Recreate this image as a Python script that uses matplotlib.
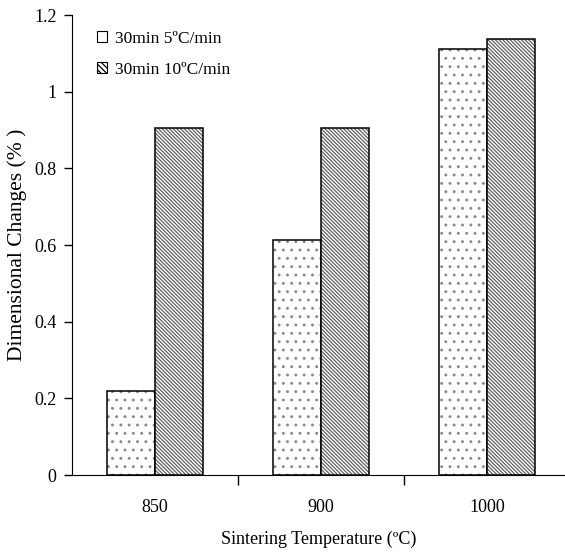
import matplotlib
matplotlib.use("Agg")
import matplotlib.pyplot as plt
import numpy as np

plt.rcParams['font.family'] = ['Liberation Serif', 'DejaVu Serif']
plt.rcParams['hatch.linewidth'] = 0.9

categories = ['850', '900', '1000']
series_names = ['30min 5ºC/min', '30min 10ºC/min']
values_5 = [0.22, 0.613, 1.11]
values_10 = [0.905, 0.905, 1.138]
yticks = [0, 0.2, 0.4, 0.6, 0.8, 1, 1.2]
ytick_labels = ['0', '0.2', '0.4', '0.6', '0.8', '1', '1.2']

W, H = 565, 554
fig = plt.figure(figsize=(W/100, H/100), dpi=100)
ax = fig.add_axes([72/W, (H-475)/H, (W-72)/W, 460/H])

x = np.arange(len(categories))
bw = 0.29
hatches = ['..', '\\' * 9]
hcolors = ['#8a8a8a', '#606060']
for vals, off, h, hc, name in [(values_5, -bw/2, hatches[0], hcolors[0], series_names[0]),
                               (values_10, bw/2, hatches[1], hcolors[1], series_names[1])]:
    ax.bar(x + off, vals, bw, color='white', edgecolor=hc, linewidth=0, hatch=h)
    ax.bar(x + off, vals, bw, fill=False, edgecolor='black', linewidth=1.1)
    ax.bar([np.nan], [np.nan], color='white', edgecolor='black', linewidth=0.8,
           hatch=('' if off < 0 else '\\' * 6), label=name)

ax.set_ylim(0, 1.2)
ax.set_xlim(-0.5, -0.5 + (W-72)/166)
ax.set_yticks(yticks)
ax.set_yticklabels(ytick_labels, fontsize=13)
ax.set_xticks([0.5, 1.5])
ax.set_xticklabels([])
ax.set_xticks(x, minor=True)
ax.set_xticklabels(categories, minor=True, fontsize=13)
ax.tick_params(axis='x', which='minor', length=0, pad=17)
ax.tick_params(axis='x', which='major', length=7, direction='out', width=1)
ax.tick_params(axis='y', length=6, direction='out', width=1, pad=5)
ax.spines['top'].set_visible(False)
ax.spines['right'].set_visible(False)

ax.set_ylabel('Dimensional Changes (% )', fontsize=15.5, labelpad=5)
ax.set_xlabel('Sintering Temperature (ºC)', fontsize=13, labelpad=11)

leg = ax.legend(loc='upper left', bbox_to_anchor=(0.0, 1.0), frameon=False, fontsize=12.5,
                handlelength=0.6, handleheight=0.6, handletextpad=0.45, labelspacing=0.85,
                borderaxespad=0.0, borderpad=0.0)
leg.set_bbox_to_anchor((97/W, (H-31)/H), transform=fig.transFigure)

fig.savefig('out.png', dpi=100)
